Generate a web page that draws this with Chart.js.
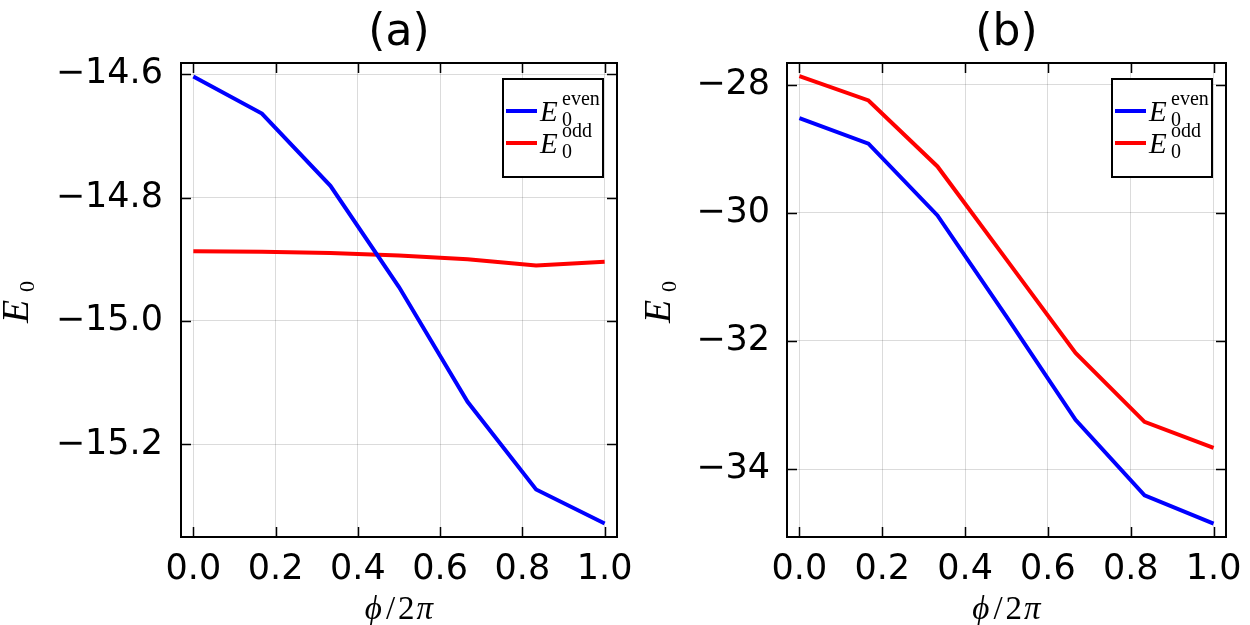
<!DOCTYPE html>
<html>
<head>
<meta charset="utf-8">
<script src="https://cdn.jsdelivr.net/npm/chart.js@4.4.1/dist/chart.umd.min.js"></script>
<style>
  html, body { margin: 0; padding: 0; background: #fff; }
  .wrap { position: absolute; top: 0; height: 625px; }
  #wa { left: 0; width: 660px; }
  #wb { left: 625px; width: 625px; }
</style>
</head>
<body>
<div class="wrap" id="wa"><canvas id="chartA" width="660" height="625"></canvas></div>
<div class="wrap" id="wb"><canvas id="chartB" width="625" height="625"></canvas></div>
<script>
/* ── Data ─────────────────────────────────────────────── */
const phi = [0, 0.1667, 0.3333, 0.5, 0.6667, 0.8333, 1];

const evenA = [-14.604, -14.664, -14.781, -14.945, -15.131, -15.273, -15.328];
const oddA  = [-14.887, -14.888, -14.890, -14.894, -14.900, -14.910, -14.904];

const evenB = [-28.52, -28.92, -30.04, -31.62, -33.23, -34.41, -34.85];
const oddB  = [-27.866, -28.245, -29.275, -30.73, -32.187, -33.263, -33.669];

const legendSup = ['even', 'odd'];
const panelTitles = ['(a)', '(b)'];
const xTitle = ['ϕ', '/', '2', 'π'];

/* ── Helpers ──────────────────────────────────────────── */
const minus = s => s.replace('-', '\u2212');
const pts = ys => phi.map((x, i) => ({ x: x, y: ys[i] }));

// frame, inward ticks, legend and math labels drawn on top
const decor = {
  id: 'decor',
  afterDraw(chart, args, o) {
    const { ctx, chartArea: a, scales: { x, y } } = chart;
    ctx.save();

    // inward tick marks on all four sides
    ctx.strokeStyle = '#000';
    ctx.lineWidth = 1.5;
    ctx.beginPath();
    x.ticks.forEach(t => {
      const px = Math.round(x.getPixelForValue(t.value)) + 0.5;
      ctx.moveTo(px, a.bottom); ctx.lineTo(px, a.bottom - 10);
      ctx.moveTo(px, a.top);    ctx.lineTo(px, a.top + 10);
    });
    y.ticks.forEach(t => {
      const py = Math.round(y.getPixelForValue(t.value)) + 0.5;
      ctx.moveTo(a.left, py);  ctx.lineTo(a.left + 10, py);
      ctx.moveTo(a.right, py); ctx.lineTo(a.right - 10, py);
    });
    ctx.stroke();

    // box frame
    ctx.lineWidth = 2;
    ctx.strokeRect(a.left, a.top, a.right - a.left, a.bottom - a.top);

    // legend
    const bw = 100, bh = 98;
    const bx = a.right - 14 - bw, by = a.top + 16;
    ctx.fillStyle = '#fff';
    ctx.fillRect(bx, by, bw, bh);
    ctx.lineWidth = 2;
    ctx.strokeRect(bx, by, bw, bh);
    chart.data.datasets.forEach((ds, i) => {
      const ly = by + 32 + i * 32;
      ctx.strokeStyle = ds.borderColor;
      ctx.lineWidth = 4;
      ctx.beginPath();
      ctx.moveTo(bx + 3, ly); ctx.lineTo(bx + 34, ly);
      ctx.stroke();
      ctx.fillStyle = '#000';
      ctx.textAlign = 'left';
      ctx.textBaseline = 'alphabetic';
      ctx.font = 'italic 29px "Liberation Serif"';
      ctx.fillText('E', bx + 37, ly + 10);
      ctx.font = '20px "Liberation Serif"';
      ctx.fillText(legendSup[i], bx + 59, ly - 6);
      ctx.fillText('0', bx + 59, ly + 15);
    });

    // y axis label E_0 (rotated)
    ctx.save();
    ctx.translate(o.yLabelX, (a.top + a.bottom) / 2 + 2);
    ctx.rotate(-Math.PI / 2);
    ctx.fillStyle = '#000';
    ctx.textAlign = 'left';
    ctx.textBaseline = 'alphabetic';
    ctx.font = 'italic 38px "Liberation Serif"';
    ctx.fillText('E', -21, 8);
    ctx.font = '22px "Liberation Serif"';
    ctx.fillText('0', 10, 14);
    ctx.restore();

    // x axis label ϕ/2π
    const fonts = ['italic 33px "Liberation Serif"', '33px "Liberation Serif"', '33px "Liberation Serif"', 'italic 33px "Liberation Serif"'];
    const gap = [4, 3, 2, 0];
    let w = 0;
    const ws = xTitle.map((s, i) => { ctx.font = fonts[i]; const m = ctx.measureText(s).width + gap[i]; w += m; return m; });
    let cx = (a.left + a.right) / 2 - w / 2;
    ctx.fillStyle = '#000';
    ctx.textAlign = 'left';
    ctx.textBaseline = 'alphabetic';
    xTitle.forEach((s, i) => { ctx.font = fonts[i]; ctx.fillText(s, cx, 619); cx += ws[i]; });

    ctx.restore();
  }
};

function makeChart(id, title, even, odd, yMin, yMax, yStep, dec, yWidth, padRight, yPad, yLabelX) {
  return new Chart(document.getElementById(id), {
    type: 'line',
    data: {
      datasets: [
        { label: 'E0 even', data: pts(even), borderColor: '#0000ff', borderWidth: 4, pointRadius: 0, tension: 0, fill: false },
        { label: 'E0 odd',  data: pts(odd),  borderColor: '#ff0000', borderWidth: 4, pointRadius: 0, tension: 0, fill: false }
      ]
    },
    options: {
      responsive: false,
      animation: false,
      devicePixelRatio: 1,
      layout: { padding: { left: 0, right: padRight, top: 0, bottom: 0 } },
      plugins: {
        legend: { display: false },
        tooltip: { enabled: false },
        title: {
          display: true, text: title, fullSize: false,
          color: '#000',
          font: { family: 'DejaVu Sans', size: 44, weight: 'normal', lineHeight: '53px' },
          padding: { top: 7, bottom: 3 }
        },
        decor: { yLabelX: yLabelX }
      },
      scales: {
        x: {
          type: 'linear', min: -0.03, max: 1.03,
          grid: { color: 'rgba(0,0,0,0.14)', lineWidth: 1, drawTicks: false },
          border: { display: false },
          ticks: {
            stepSize: 0.2, includeBounds: false, padding: 12, color: '#000',
            font: { family: 'DejaVu Sans', size: 35 },
            callback: v => v.toFixed(1)
          },
          afterFit: s => { s.height = 88; s.paddingLeft = 0; s.paddingRight = 0; }
        },
        y: {
          type: 'linear', min: yMin, max: yMax,
          grid: { color: 'rgba(0,0,0,0.14)', lineWidth: 1, drawTicks: false },
          border: { display: false },
          ticks: {
            stepSize: yStep, includeBounds: false, padding: yPad, color: '#000',
            font: { family: 'DejaVu Sans', size: 35 },
            callback: v => minus(v.toFixed(dec))
          },
          afterFit: s => { s.width = yWidth; s.paddingTop = 0; s.paddingBottom = 0; }
        }
      }
    },
    plugins: [decor]
  });
}

makeChart('chartA', panelTitles[0], evenA, oddA, -15.35, -14.582, 0.2, 1, 181, 43, 18, 20);
makeChart('chartB', panelTitles[1], evenB, oddB, -35.06, -27.66, 2, 0, 162, 24, 17, 37);
</script>
</body>
</html>
